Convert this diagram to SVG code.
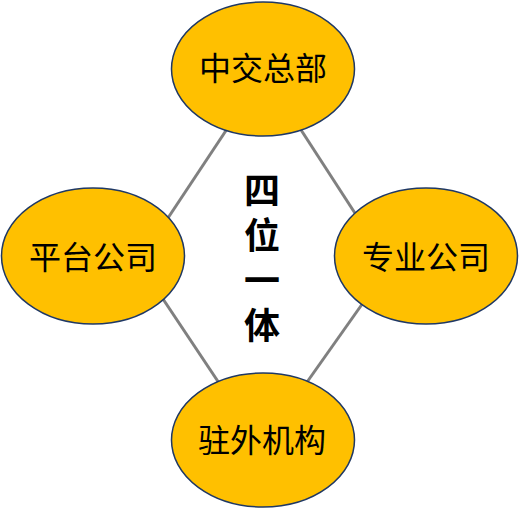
<svg xmlns="http://www.w3.org/2000/svg" width="519" height="509" viewBox="0 0 519 509">
<style>
.node{fill:#FFC000;stroke:#1F3864;stroke-width:1.5}
.lbl{font-family:"Noto Sans CJK SC","Noto Sans",sans-serif;font-size:32px;fill:#000;text-anchor:middle}
.ctr{font-family:"Noto Sans CJK SC","Noto Sans",sans-serif;font-size:36px;font-weight:bold;fill:#000;writing-mode:vertical-rl;letter-spacing:9px}
.conn{stroke:#808080;stroke-width:3;fill:none}
</style>
<rect width="519" height="509" fill="#fff"/>
<g id="connectors">
<line class="conn" x1="235" y1="117" x2="160" y2="230"/>
<line class="conn" x1="292" y1="116" x2="362" y2="224"/>
<line class="conn" x1="155" y1="287" x2="225" y2="392"/>
<line class="conn" x1="370" y1="293" x2="300" y2="392"/>
</g>
<g id="zhongjiao">
<ellipse class="node" cx="263" cy="69" rx="91.5" ry="67"/>
<text class="lbl" x="263" y="80">中交总部</text>
</g>
<g id="pingtai">
<ellipse class="node" cx="93" cy="256" rx="91.5" ry="68"/>
<text class="lbl" x="93" y="269">平台公司</text>
</g>
<g id="zhuanye">
<ellipse class="node" cx="426" cy="256" rx="91.5" ry="68"/>
<text class="lbl" x="426" y="269">专业公司</text>
</g>
<g id="zhuwai">
<ellipse class="node" cx="263" cy="440" rx="91.5" ry="67"/>
<text class="lbl" x="262" y="452">驻外机构</text>
</g>
<g id="center">
<text class="ctr" x="262" y="172">四位一体</text>
</g>
</svg>
